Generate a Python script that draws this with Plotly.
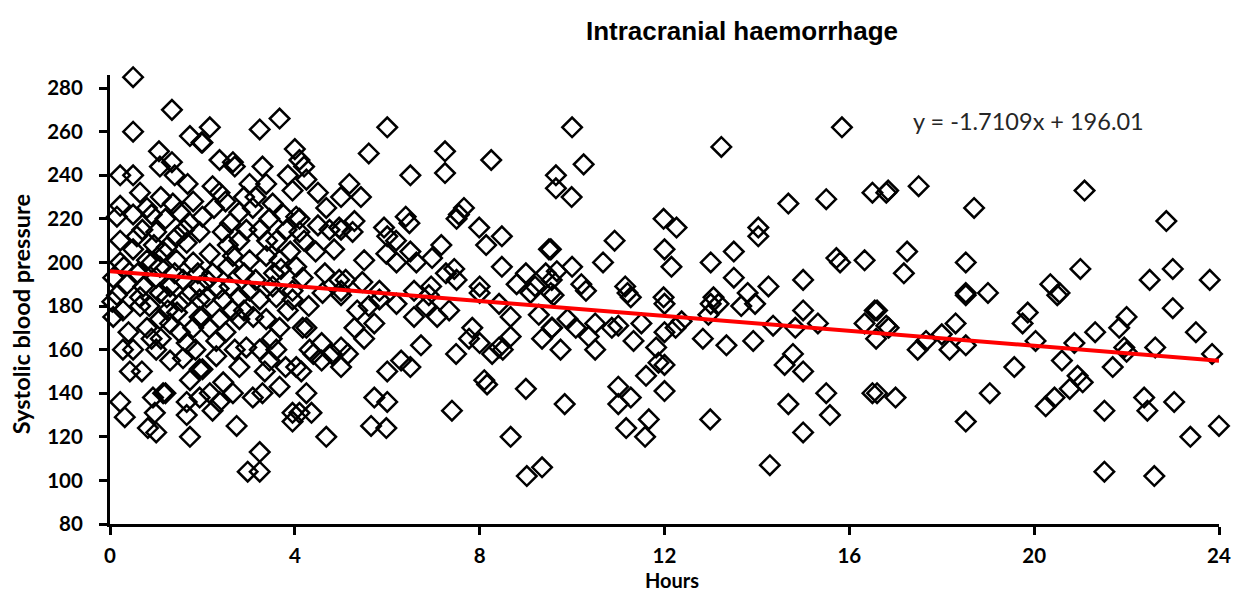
import plotly.graph_objects as go

# (hours, systolic blood pressure), grouped by time band
band_00_01 = [(0.5,285),(0.5,260),(0.22,240),(0.5,240),(0.65,232),(0.22,226),(0.15,221),(0.5,222),(0.8,225),(0.9,222),
              (0.22,210),(0.58,212),(0.5,206),(0.8,201),(0.22,200),(0.07,193),(0.37,190),(0.72,189),(0.15,185),(0.07,175),
              (0.28,178),(0.65,184),(0.65,180),(0.8,170),(0.28,160),(0.5,160),(0.43,150),(0.69,150),(0.22,136),(0.32,129),
              (0.93,138),(0.97,131),(0.82,124),(0.9,200),(0.6,195),(0.85,180),(0.4,168),(0.9,165),(0.05,182),(0.3,198),
              (0.7,215),(0.95,208)]
band_01_02 = [(1.34,270),(1.06,251),(1.08,244),(1.34,246),(1.68,236),(1.73,258),(1.98,255),(1.36,227),(1.51,223),(1.73,218),
              (1.0,214),(1.23,207),(1.66,209),(1.94,214),(1.08,198),(1.44,201),(1.8,200),(1.0,193),(1.3,189),(1.58,192),
              (1.94,189),(1.08,186),(1.23,184),(1.45,177),(1.08,174),(1.3,172),(1.51,168),(1.8,170),(1.94,183),(1.94,175),
              (1.66,163),(1.0,160),(1.3,155),(1.58,156),(1.73,146),(1.94,151),(1.15,140),(1.2,140),(1.0,122),(1.66,136),
              (1.66,130),(1.73,120),(1.94,138),(1.1,230),(1.2,220),(1.4,240),(1.6,215),(1.8,228),(1.15,205),(1.4,195),
              (1.7,185),(1.25,178),(1.55,182),(1.85,160),(1.1,165),(1.45,212),(1.9,195)]
band_02_03 = [(2.16,262),(2.0,255),(2.37,247),(2.66,246),(2.7,244),(2.22,235),(2.37,232),(2.8,223),(2.0,221),(2.44,214),
              (2.8,210),(2.16,204),(2.66,203),(2.22,195),(2.59,189),(2.09,184),(2.44,183),(2.8,184),(2.0,175),(2.37,174),
              (2.8,174),(2.3,164),(2.3,157),(2.8,152),(2.95,161),(2.0,151),(2.16,140),(2.22,132),(2.37,136),(2.66,140),
              (2.74,125),(2.98,104),(2.5,228),(2.9,230),(2.6,218),(2.25,225),(2.55,198),(2.9,195),(2.1,192),(2.65,178),
              (2.5,168),(2.15,170),(2.7,160),(2.45,145),(2.9,178),(2.55,208),(2.95,215),(2.35,188)]
band_03_04 = [(3.67,266),(3.24,261),(3.3,244),(3.02,236),(3.38,236),(3.95,233),(3.09,225),(3.52,227),(3.24,215),(3.6,210),
              (3.82,215),(3.02,201),(3.38,203),(3.67,201),(3.02,187),(3.52,189),(3.95,187),(3.24,183),(3.6,184),(3.95,183),
              (3.38,174),(3.67,170),(3.24,160),(3.45,155),(3.6,160),(3.09,138),(3.3,140),(3.67,143),(3.95,131),(3.95,127),
              (3.24,113),(3.24,104),(3.15,230),(3.45,220),(3.75,222),(3.85,240),(3.55,195),(3.15,192),(3.85,178),(3.1,175),
              (3.5,165),(3.8,152),(3.35,150),(3.7,197),(3.4,210),(3.9,205)]
band_04_05 = [(4.0,252),(4.1,247),(4.2,244),(4.25,238),(4.5,232),(4.68,225),(4.03,221),(4.1,220),(4.1,214),(4.5,217),
              (4.75,215),(4.96,216),(4.03,198),(4.17,193),(4.96,192),(4.17,170),(4.25,170),(4.32,160),(4.58,163),(4.58,155),
              (4.8,158),(4.14,150),(4.03,152),(4.25,140),(4.36,131),(4.1,131),(4.68,120),(4.4,158),(4.3,180),(4.6,186),
              (4.85,206),(4.45,205),(4.65,195),(4.2,210)]
band_05_06 = [(5.0,230),(5.18,236),(5.43,230),(5.29,219),(5.25,214),(5.0,215),(5.46,191),(5.0,187),(5.0,185),(5.5,201),
              (5.6,250),(5.93,216),(6.0,212),(5.98,204),(5.83,187),(5.83,183),(5.0,161),(5.0,152),(5.29,170),(5.5,165),
              (5.72,172),(5.72,138),(6.0,136),(5.65,125),(5.98,124),(5.15,158),(5.1,192),(5.6,180),(5.35,178)]
band_06_08 = [(6.0,262),(6.5,240),(6.4,221),(6.48,218),(6.19,210),(6.5,205),(6.63,200),(6.2,181),(6.58,175),(6.84,180),
              (6.58,187),(6.95,189),(6.73,162),(6.3,155),(6.5,152),(6.0,150),(7.25,251),(7.25,241),(7.17,208),(6.97,202),
              (7.45,197),(7.27,195),(7.5,192),(7.08,175),(7.34,178),(7.66,225),(7.5,220),(7.55,222),(7.84,170),(7.77,165),
              (7.49,158),(7.4,132),(6.2,200),(6.9,185)]
band_08_10 = [(8.25,247),(7.99,216),(8.48,212),(8.14,208),(8.48,198),(8.0,189),(8.8,190),(9.0,195),(9.2,189),(9.43,195),
              (9.56,192),(9.5,206),(9.65,240),(9.65,234),(8.0,186),(8.42,181),(8.67,175),(9.1,186),(9.28,176),(9.56,170),
              (9.35,165),(8.67,166),(8.42,161),(8.5,160),(8.27,158),(8.0,163),(8.1,146),(8.16,144),(9.0,142),(8.67,120),
              (9.02,102),(9.35,106),(9.6,185),(9.57,170),(9.75,160),(9.84,135),(9.9,174),(9.54,186),(9.67,196),(9.54,206)]
band_10_12 = [(10.0,262),(10.25,245),(9.99,230),(10.0,198),(10.67,200),(10.92,210),(10.2,190),(10.3,187),(10.5,172),(10.08,170),
              (10.36,166),(10.5,160),(10.86,170),(11.0,171),(11.15,189),(11.2,186),(11.27,184),(11.5,172),(11.33,164),(11.82,161),
              (11.87,154),(11.6,148),(11.0,143),(11.27,138),(11.0,135),(11.66,128),(11.17,124),(11.58,120),(11.98,220),(12.0,206),
              (11.98,184),(12.0,181),(12.0,168),(12.0,153),(12.0,141)]
band_12_14 = [(12.26,216),(12.15,198),(12.37,173),(12.24,170),(12.95,176),(12.83,165),(13.0,200),(13.0,181),(13.17,181),(13.06,184),
              (13.23,253),(13.5,205),(13.5,193),(13.34,162),(12.99,128),(13.66,180),(13.96,181),(13.92,164),(13.8,186),(14.03,216),
              (14.03,212)]
band_14_16 = [(14.25,189),(14.35,171),(14.68,227),(14.83,170),(14.78,158),(14.6,153),(15.0,150),(15.0,192),(15.0,178),(14.68,135),
              (15.0,122),(14.28,107),(15.32,172),(15.5,229),(15.5,140),(15.58,130),(15.72,202),(15.8,200),(15.84,262)]
band_16_18 = [(16.33,201),(16.33,172),(16.5,232),(16.8,232),(16.84,233),(16.55,178),(16.6,178),(16.58,165),(16.5,140),(16.6,140),
              (16.8,171),(16.85,170),(17.0,138),(17.25,205),(17.18,195),(17.5,235),(17.66,164),(17.48,160),(18.0,167)]
band_18_20 = [(18.3,172),(18.17,160),(18.52,162),(18.52,200),(18.52,186),(18.52,185),(18.7,225),(18.52,127),(19.0,186),(19.04,140),
              (19.57,152),(19.75,172),(19.86,177),(20.03,164)]
band_20_22 = [(20.35,190),(20.55,186),(20.5,185),(20.25,134),(20.44,138),(20.6,155),(20.87,163),(20.94,148),(21.05,145),(20.77,142),
              (21.0,197),(21.09,233),(21.32,168),(21.52,132),(21.52,104),(21.7,152),(21.84,170),(22.0,175),(22.0,159),(21.95,161)]
band_22_24 = [(22.5,192),(22.62,161),(22.38,138),(22.45,132),(22.6,102),(22.86,219),(23.0,197),(23.0,179),(23.03,136),(23.38,120),
              (23.5,168),(23.8,192),(23.85,158),(24.0,125)]

# Linear trend line shown in the chart (endpoints)
trend_hours = [0, 24]
trend_sbp = [196.01, 154.95]
equation_text = "y = -1.7109x + 196.01"

x_ticks = [0, 4, 8, 12, 16, 20, 24]
y_ticks = [80, 100, 120, 140, 160, 180, 200, 220, 240, 260, 280]

all_points = (band_00_01 + band_01_02 + band_02_03 + band_03_04 + band_04_05 + band_05_06 + band_06_08 +
              band_08_10 + band_10_12 + band_12_14 + band_14_16 + band_16_18 + band_18_20 + band_20_22 + band_22_24)
hours = [p[0] for p in all_points]
sbp = [p[1] for p in all_points]

fig = go.Figure()
fig.add_trace(go.Scatter(
    x=hours, y=sbp, mode="markers",
    marker=dict(symbol="diamond-open", size=15, color="black", line=dict(width=2.5, color="black")),
    showlegend=False, cliponaxis=False,
))
fig.add_trace(go.Scatter(
    x=trend_hours, y=trend_sbp, mode="lines",
    line=dict(color="#ff0000", width=4), showlegend=False,
))

# the page body has an 8px margin, so the figure is sized/offset to compensate
W, H = 1235, 585
L, R, T, B = 102, 21, 67, 69
PW, PH = W - L - R, H - T - B
tick_font = dict(family="Lato, Open Sans, sans-serif", size=20.5, color="black")
fig.update_layout(
    width=W, height=H,
    margin=dict(l=L, r=R, t=T, b=B),
    paper_bgcolor="white", plot_bgcolor="white",
    title=dict(text="<b>Intracranial haemorrhage</b>", x=(742 - 8) / W, xanchor="center",
               y=1 - (31 - 8) / H, yanchor="middle",
               font=dict(family="Arial, Liberation Sans, sans-serif", size=26, color="black")),
    annotations=[
        dict(text=equation_text,
             x=(1031 - 110) / PW, y=(524 - 121) / PH,
             xref="paper", yref="paper", xanchor="center", yanchor="middle", showarrow=False,
             font=dict(family="Lato, Open Sans, sans-serif", size=23.5, color="#262626")),
        dict(text="<b>Hours</b>",
             x=(674 - 110) / PW, y=-(580 - 524) / PH,
             xref="paper", yref="paper", xanchor="center", yanchor="middle", showarrow=False,
             font=dict(family="Lato, Open Sans, sans-serif", size=20, color="black")),
        dict(text="<b>Systolic blood pressure</b>", textangle=-90,
             x=-(110 - 21) / PW, y=(524 - 314) / PH,
             xref="paper", yref="paper", xanchor="center", yanchor="middle", showarrow=False,
             font=dict(family="Lato, Open Sans, sans-serif", size=23.5, color="black")),
    ],
)

fig.update_xaxes(
    range=[0, 24], tickvals=x_ticks, ticktext=[f"<b>{v}</b>" for v in x_ticks],
    showgrid=False, zeroline=False, showline=True, linecolor="black", linewidth=3,
    ticks="outside", ticklen=8, tickwidth=3, tickcolor="black", tickfont=tick_font,
    ticklabelstandoff=3,
)
fig.update_yaxes(
    range=[80, 286], tickvals=y_ticks, ticktext=[f"<b>{v}</b>" for v in y_ticks],
    showgrid=False, zeroline=False, showline=True, linecolor="black", linewidth=3,
    ticks="outside", ticklen=8, tickwidth=3, tickcolor="black", tickfont=tick_font,
    ticklabelstandoff=12,
)

fig.write_html("out.html")
